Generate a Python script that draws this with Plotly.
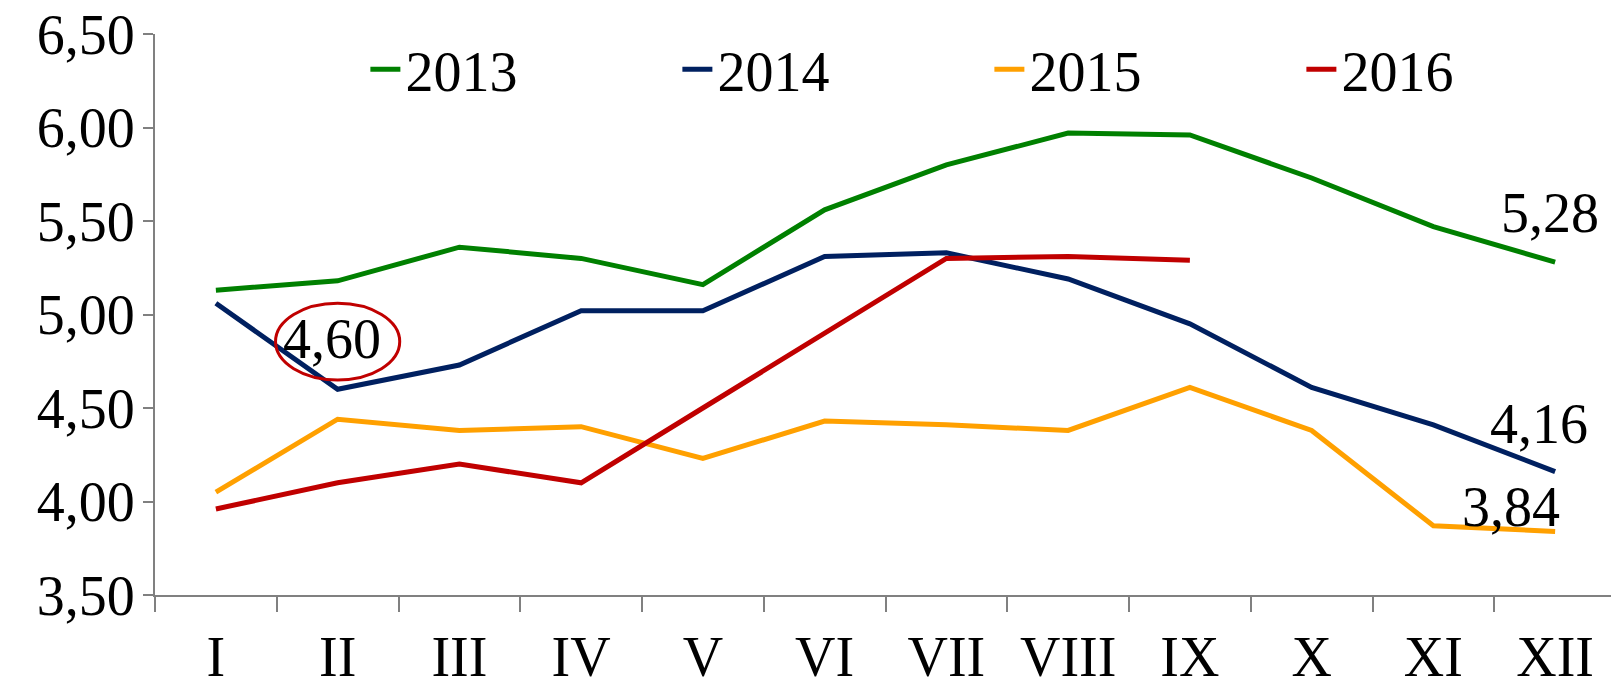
import plotly.graph_objects as go

months = ["I", "II", "III", "IV", "V", "VI", "VII", "VIII", "IX", "X", "XI", "XII"]
y2013 = [5.13, 5.18, 5.36, 5.30, 5.16, 5.56, 5.80, 5.97, 5.96, 5.73, 5.47, 5.28]
y2014 = [5.06, 4.60, 4.73, 5.02, 5.02, 5.31, 5.33, 5.19, 4.95, 4.61, 4.41, 4.16]
y2015 = [4.05, 4.44, 4.38, 4.40, 4.23, 4.43, 4.41, 4.38, 4.61, 4.38, 3.87, 3.84]
y2016 = [3.96, 4.10, 4.20, 4.10, 4.50, 4.90, 5.30, 5.31, 5.29]
series = [("2013", y2013, "#008000"), ("2014", y2014, "#002060"),
          ("2015", y2015, "#FFA000"), ("2016", y2016, "#C00000")]
yticks = [3.5, 4.0, 4.5, 5.0, 5.5, 6.0, 6.5]
ytick_labels = ["3,50", "4,00", "4,50", "5,00", "5,50", "6,00", "6,50"]

FONT = "Liberation Serif, Times New Roman, serif"
FS = 56
fig = go.Figure()
for name, vals, color in series:
    fig.add_trace(go.Scatter(x=months[:len(vals)], y=vals, mode="lines", name=name,
                             line=dict(color=color, width=5)))

ann_font = dict(size=FS, color="black", family=FONT)
fig.add_annotation(x="XII", y=y2013[-1], text="5,28", showarrow=False, yshift=49, xshift=-5, font=ann_font)
fig.add_annotation(x="XII", y=y2014[-1], text="4,16", showarrow=False, yshift=48, xshift=-16, font=ann_font)
fig.add_annotation(x="XII", y=y2015[-1], text="3,84", showarrow=False, yshift=24, xshift=-44, font=ann_font)
fig.add_annotation(x="II", y=y2014[1], text="4,60", showarrow=False, yshift=50, xshift=-6, font=ann_font)
fig.add_shape(type="circle", xref="x", yref="y", x0=0.49, x1=1.51, y0=4.65, y1=5.06,
              line=dict(color="#C00000", width=3))

# page body adds an 8px offset, so the figure is sized to fill the remaining window
fig.update_layout(
    width=1611, height=670,
    margin=dict(l=147, r=3, t=26, b=83, autoexpand=False),
    paper_bgcolor="white", plot_bgcolor="white",
    font=dict(family=FONT, size=FS, color="black"),
    showlegend=True,
    legend=dict(orientation="h", x=0.144, xanchor="left", y=0.937, yanchor="middle",
                entrywidth=267, entrywidthmode="pixels", font=dict(size=FS),
                bgcolor="rgba(0,0,0,0)", itemwidth=30, tracegroupgap=0),
    xaxis=dict(type="category", categoryorder="array", categoryarray=months,
               range=[-0.5, 11.5], showgrid=False, showline=True, linecolor="#808080", linewidth=2,
               ticks="outside", tickson="boundaries", ticklen=15, tickcolor="#808080", tickwidth=2,
               tickfont=dict(size=FS, family=FONT), ticklabelstandoff=12, automargin=False,
               ticklabeloverflow="allow"),
    yaxis=dict(range=[3.5, 6.5], tickvals=yticks, ticktext=ytick_labels, showgrid=False,
               showline=True, linecolor="#808080", linewidth=2, zeroline=False,
               ticks="outside", ticklen=10, tickcolor="#808080", tickwidth=2,
               tickfont=dict(size=FS, family=FONT), automargin=False,
               ticklabeloverflow="allow", ticklabelstandoff=-3),
)
fig.write_html("out.html")
